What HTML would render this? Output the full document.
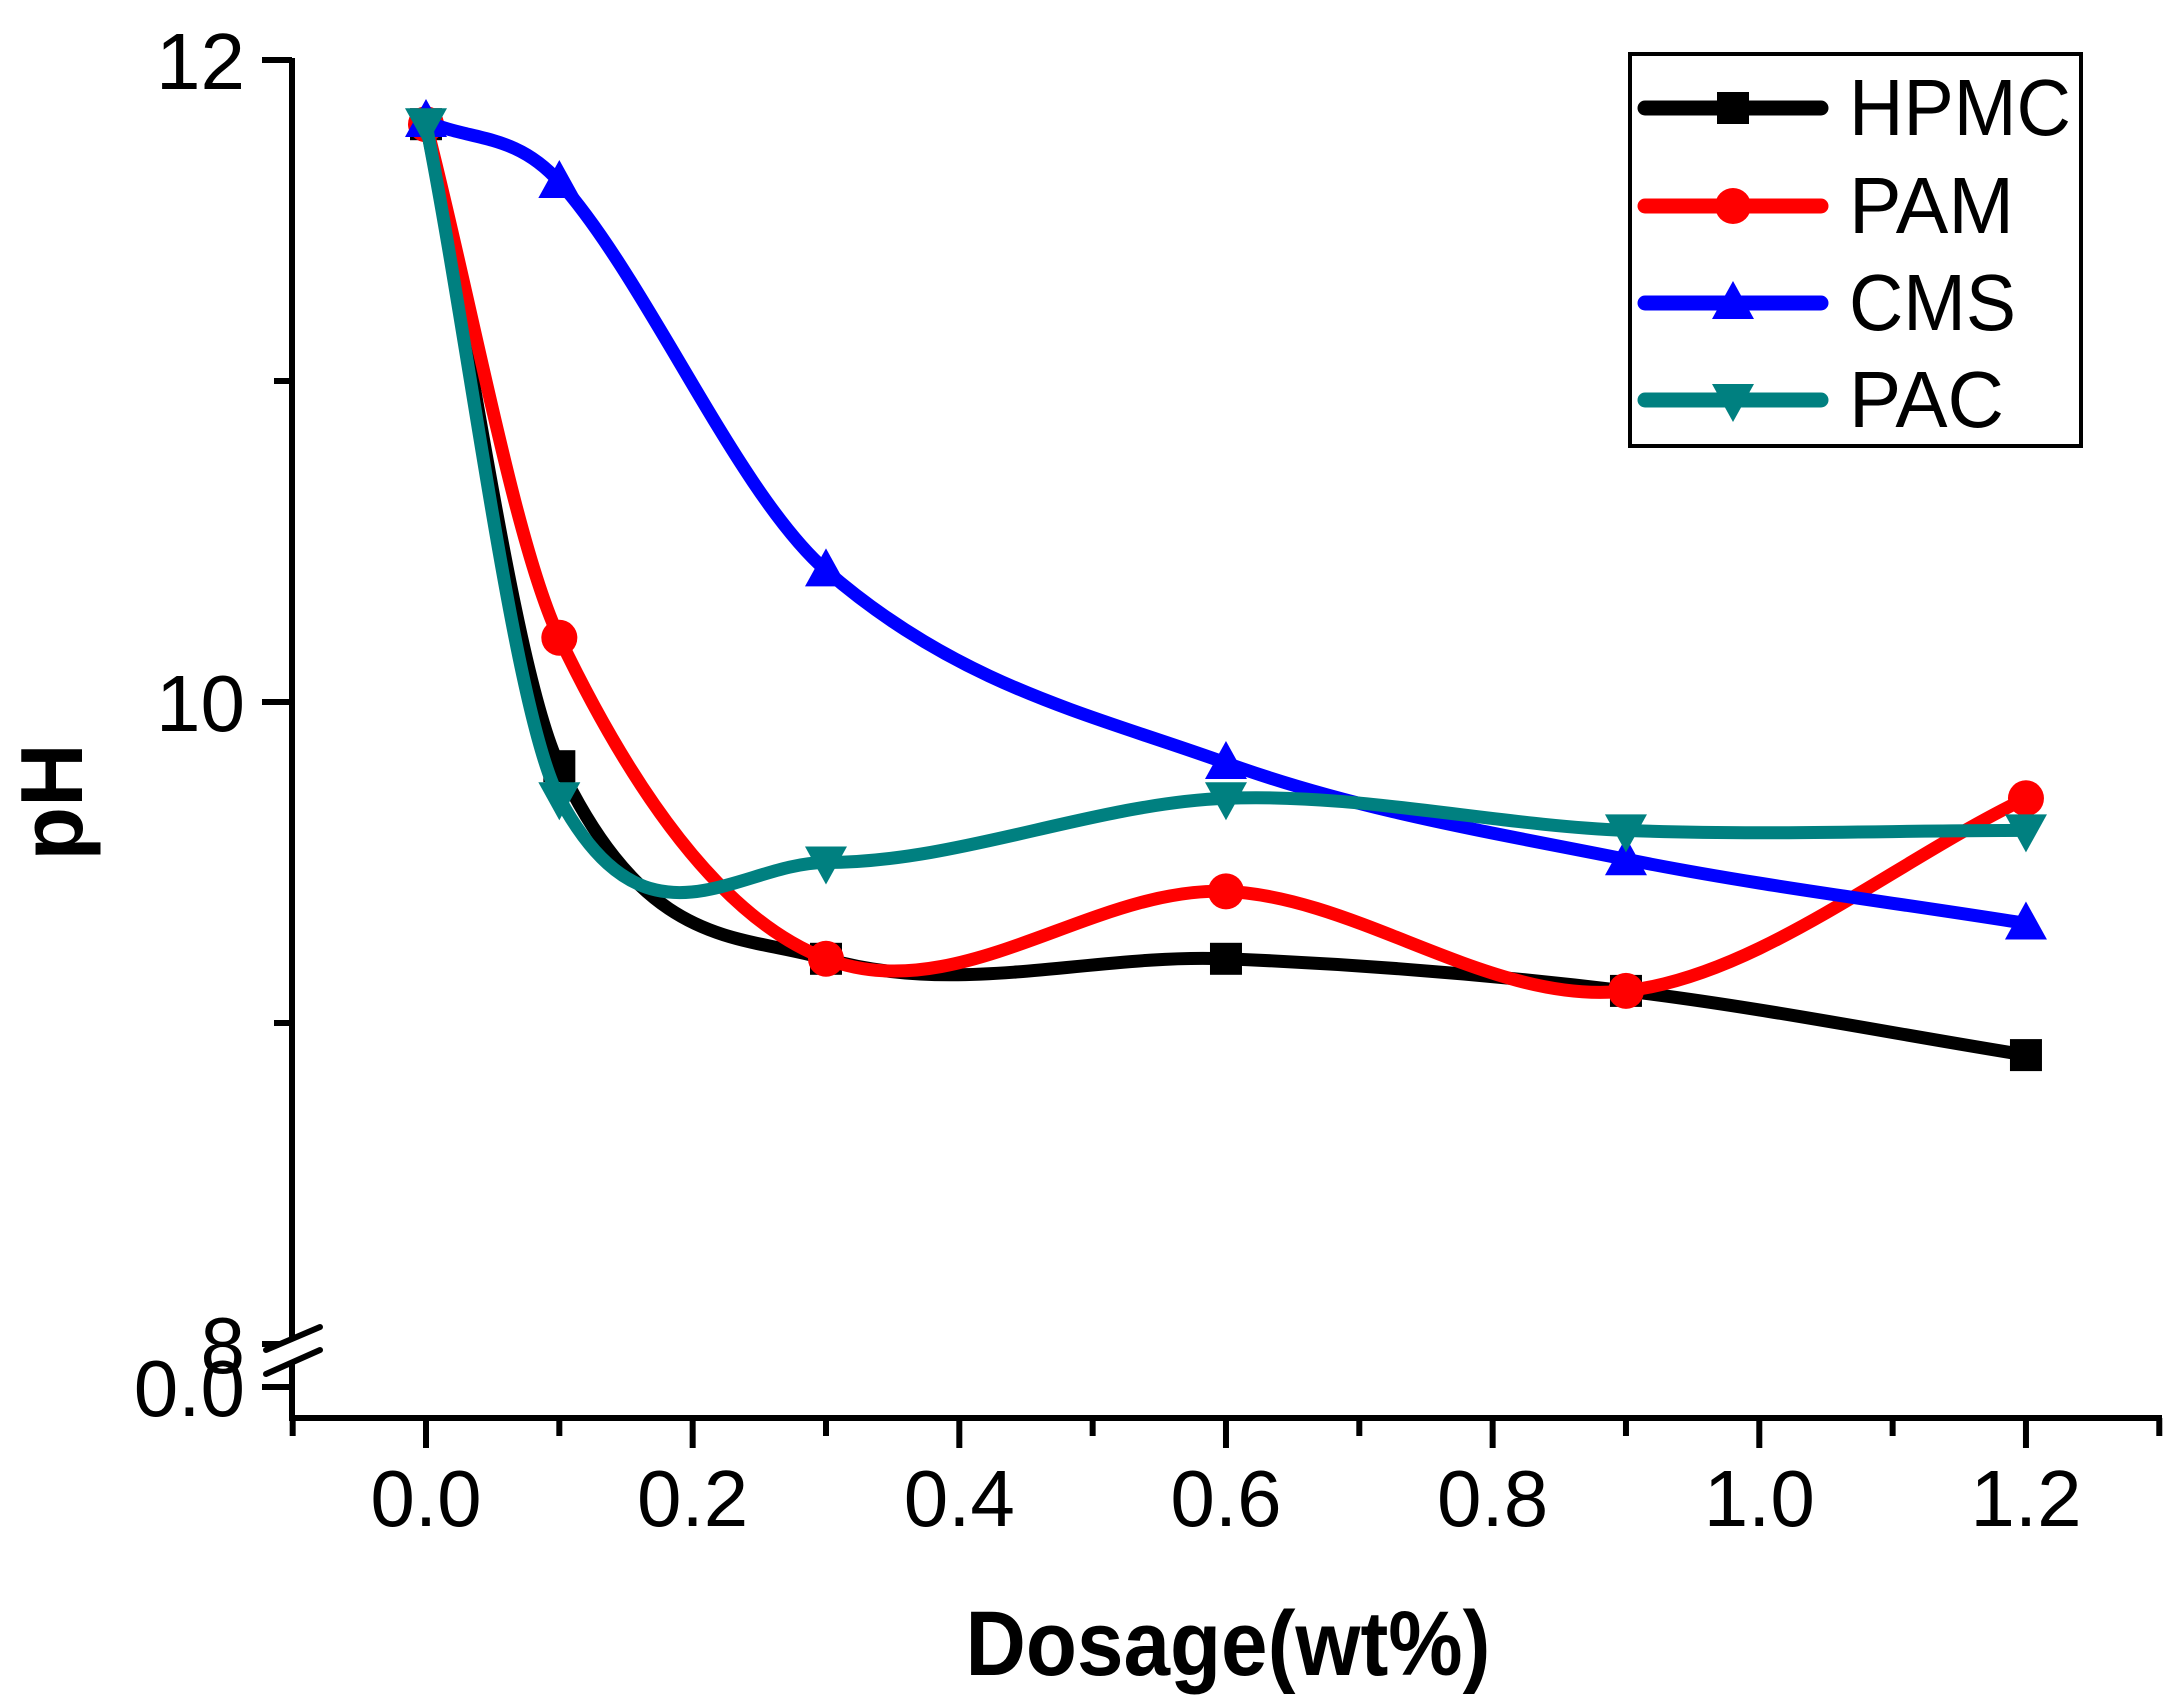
<!DOCTYPE html>
<html><head><meta charset="utf-8"><style>
html,body{margin:0;padding:0;background:#fff;}
svg{display:block;font-family:"Liberation Sans",Arial,sans-serif;}
</style></head><body>
<svg id="chart" width="2177" height="1702" viewBox="0 0 2177 1702" xmlns="http://www.w3.org/2000/svg">
<rect width="2177" height="1702" fill="#fff"/>
<g id="axes"></g>
<g id="series"></g>
<g id="legend"></g>
<text x="0" y="0" transform="translate(82,802) rotate(-90)" text-anchor="middle" font-weight="bold" font-size="88">pH</text>
<text x="1228" y="1675" text-anchor="middle" font-weight="bold" font-size="92" textLength="525" lengthAdjust="spacingAndGlyphs">Dosage(wt%)</text>
</svg>
<script>
const categories = [0, 0.1, 0.3, 0.6, 0.9, 1.2];
const seriesNames = ["HPMC", "PAM", "CMS", "PAC"];
const hpmcValues = [11.80, 9.80, 9.20, 9.20, 9.10, 8.90];
const pamValues = [11.80, 10.20, 9.20, 9.41, 9.10, 9.70];
const cmsValues = [11.81, 11.62, 10.41, 9.81, 9.51, 9.31];
const pacValues = [11.80, 9.70, 9.50, 9.70, 9.60, 9.60];
const xTickLabels = ["0.0", "0.2", "0.4", "0.6", "0.8", "1.0", "1.2"];
const yTickLabels = ["8", "10", "12"];

const NS = "http://www.w3.org/2000/svg";
const colors = ["#000000", "#ff0000", "#0000ff", "#008080"];
const markers = ["square", "circle", "up", "down"];
const allValues = [hpmcValues, pamValues, cmsValues, pacValues];
function xs(v){ return 426 + v * 1333.3; }
function ys(v){ return 702 - (v - 10) * 321; }
function mk(tag, attrs, parent){
  const e = document.createElementNS(NS, tag);
  for (const k in attrs) e.setAttribute(k, attrs[k]);
  parent.appendChild(e);
  return e;
}
const axes = document.getElementById('axes');
const AX = 292, AY = 1418;
let e;
e = mk('line', {x1:AX, y1:58, x2:AX, y2:AY+3, stroke:'#000', 'stroke-width':6}, axes);


e = mk('line', {x1:AX-3, y1:AY, x2:2162, y2:AY, stroke:'#000', 'stroke-width':6}, axes);


for (let i = -1; i <= 13; i++) {
  const v = i / 10, x = xs(v);
  const major = (i % 2 === 0);
  e = mk('line', {x1:x, y1:AY, x2:x, y2:AY + (major ? 30 : 18), stroke:'#000', 'stroke-width':6}, axes);
  
  
}
xTickLabels.forEach(function(t){
  e = mk('text', {x:xs(parseFloat(t)), y:1526, 'text-anchor':'middle', 'font-size':80}, axes);
  e.textContent = t;
  
  
});
[8, 9, 10, 11, 12].forEach(function(v){
  const major = (v % 2 === 0);
  e = mk('line', {x1:AX - (major ? 30 : 18), y1:ys(v), x2:AX, y2:ys(v), stroke:'#000', 'stroke-width':6}, axes);
  
  
});
yTickLabels.forEach(function(t){
  e = mk('text', {x:245, y:ys(parseFloat(t)) + 29, 'text-anchor':'end', 'font-size':80}, axes);
  e.textContent = t;
  
  
});
e = mk('line', {x1:AX-30, y1:1387, x2:AX, y2:1387, stroke:'#000', 'stroke-width':6}, axes);


e = mk('text', {x:245, y:1416, 'text-anchor':'end', 'font-size':80}, axes);
e.textContent = '0.0';


e = mk('polygon', {points:'263,1350 321,1327 321,1350 263,1374', fill:'#fff'}, axes);


[[1350,1327],[1374,1350]].forEach(function(p){
  e = mk('line', {x1:266, y1:p[0], x2:320, y2:p[1], stroke:'#000', 'stroke-width':6, 'stroke-linecap':'round'}, axes);
  
  
});

function drawMarker(type, x, y, color, parent){
  let m;
  const s = 16;
  if (type === 'square') m = mk('rect', {x:x-s, y:y-s, width:2*s, height:2*s, fill:color}, parent);
  else if (type === 'circle') m = mk('circle', {cx:x, cy:y, r:s+2, fill:color}, parent);
  else if (type === 'up') m = mk('polygon', {points:(x)+','+(y-s-6)+' '+(x+s+5)+','+(y+s)+' '+(x-s-5)+','+(y+s), fill:color}, parent);
  else m = mk('polygon', {points:(x)+','+(y+s+6)+' '+(x+s+5)+','+(y-s)+' '+(x-s-5)+','+(y-s), fill:color}, parent);
  return m;
}
function smoothPath(pts){
  const n = pts.length;
  const slopes = [];
  for (let i = 0; i < n; i++) {
    let m;
    if (i === 0) m = (pts[1][1]-pts[0][1])/(pts[1][0]-pts[0][0]);
    else if (i === n-1) m = (pts[n-1][1]-pts[n-2][1])/(pts[n-1][0]-pts[n-2][0]);
    else m = (pts[i+1][1]-pts[i-1][1])/(pts[i+1][0]-pts[i-1][0]);
    slopes.push(m);
  }
  let d = 'M' + pts[0][0] + ',' + pts[0][1];
  for (let i = 0; i < n - 1; i++) {
    const p1 = pts[i], p2 = pts[i+1], dx = (p2[0]-p1[0])/3;
    d += ' C' + (p1[0]+dx) + ',' + (p1[1]+slopes[i]*dx) + ' ' + (p2[0]-dx) + ',' + (p2[1]-slopes[i+1]*dx) + ' ' + p2[0] + ',' + p2[1];
  }
  return d;
}
const series = document.getElementById('series');
allValues.forEach(function(vals, si){
  const g = mk('g', {}, series);
  
  
  const pts = categories.map(function(c, i){ return [xs(c), ys(vals[i])]; });
  const p = mk('path', {d:smoothPath(pts), fill:'none', stroke:colors[si], 'stroke-width':13, 'stroke-linejoin':'round'}, g);
  
  
  pts.forEach(function(pt){
    const m = drawMarker(markers[si], pt[0], pt[1], colors[si], g);
    
    
  });
});
const legend = document.getElementById('legend');
e = mk('rect', {x:1630, y:54, width:451, height:392, fill:'#fff', stroke:'#000', 'stroke-width':4}, legend);


const rows = [108, 206, 303, 400];
seriesNames.forEach(function(n, si){
  const g = mk('g', {}, legend);
  
  
  const ln = mk('line', {x1:1645, y1:rows[si], x2:1821, y2:rows[si], stroke:colors[si], 'stroke-width':15, 'stroke-linecap':'round'}, g);
  
  
  const m = drawMarker(markers[si], 1733, rows[si], colors[si], g);
  
  
  const t = mk('text', {x:1849, y:rows[si] + 27, 'font-size':80, textLength: [222,165,167,155][si], lengthAdjust:'spacingAndGlyphs'}, g);
  t.textContent = n;
  
  
});
</script>
</body></html>
